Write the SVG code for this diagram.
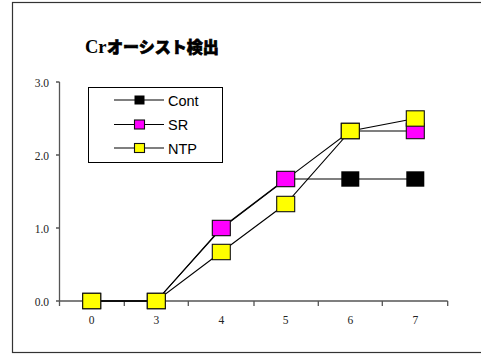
<svg xmlns="http://www.w3.org/2000/svg" width="481" height="354" viewBox="0 0 481 354">
<style>
.ax{stroke:#555;stroke-width:1.3;fill:none}
.ln{stroke:#000;stroke-width:1.1;fill:none}
.num{font-family:"Liberation Serif",serif;font-size:11.5px;fill:#222}
.leg{font-family:"Liberation Sans",Arial,sans-serif;font-size:14.5px;fill:#000}
.mk{stroke:#111;stroke-width:1.1}
.cont{fill:#000}
.sr{fill:#ff00ff}
.ntp{fill:#ffff00}
</style>
<defs>
<rect id="m" x="-9" y="-7.7" width="18" height="15.4"/>
<rect id="lm" x="-5" y="-4.5" width="10" height="9"/>
</defs>
<rect x="0" y="0" width="481" height="354" fill="#fff"/>
<rect x="12.5" y="2.5" width="480" height="350" fill="#fff" stroke="#333" stroke-width="1.2"/>
<text x="85" y="53" font-weight="bold"><tspan font-family="Liberation Serif,serif" font-size="18.5">Cr</tspan><tspan font-family="'Noto Sans CJK JP',sans-serif" font-size="16" font-weight="900" stroke="#000" stroke-width="0.7" dx="0.5">オーシスト検出</tspan></text>
<g id="axes">
<path class="ax" d="M59.5,82 V306 M56,82 H59.5 M56,155 H59.5 M56,228 H59.5 M56,301 H59.5 M59.5,301 H447.7 M124.3,301 V306 M188.3,301 V306 M254,301 V306 M318.3,301 V306 M382.3,301 V306 M447.7,301 V306"/>
<text class="num" x="49" y="86.5" text-anchor="end">3.0</text>
<text class="num" x="49" y="159.5" text-anchor="end">2.0</text>
<text class="num" x="49" y="232.5" text-anchor="end">1.0</text>
<text class="num" x="49" y="305.5" text-anchor="end">0.0</text>
<text class="num" x="91.7" y="324" text-anchor="middle">0</text>
<text class="num" x="156.3" y="324" text-anchor="middle">3</text>
<text class="num" x="221.3" y="324" text-anchor="middle">4</text>
<text class="num" x="285.7" y="324" text-anchor="middle">5</text>
<text class="num" x="350.3" y="324" text-anchor="middle">6</text>
<text class="num" x="415.3" y="324" text-anchor="middle">7</text>
</g>
<g id="connectors">
<polyline class="ln" points="91.7,301 156.3,301 221.3,228 285.7,179 350.3,179 415.3,179"/>
<polyline class="ln" points="91.7,301 156.3,301 221.3,228.6 285.7,179.6 350.3,131 415.3,131"/>
<polyline class="ln" points="91.7,301 156.3,301 221.3,252 285.7,204 350.3,131 415.3,118.5"/>
</g>
<g id="series-cont" class="cont">
<use href="#m" x="91.7" y="301"/>
<use href="#m" x="156.3" y="301"/>
<use href="#m" x="221.3" y="228"/>
<use href="#m" x="285.7" y="179"/>
<use href="#m" x="350.3" y="179"/>
<use href="#m" x="415.3" y="179"/>
</g>
<g id="series-sr" class="sr mk">
<use href="#m" x="91.7" y="301"/>
<use href="#m" x="156.3" y="301"/>
<use href="#m" x="221.3" y="228"/>
<use href="#m" x="285.7" y="179"/>
<use href="#m" x="350.3" y="131"/>
<use href="#m" x="415.3" y="131"/>
</g>
<g id="series-ntp" class="ntp mk">
<use href="#m" x="91.7" y="301"/>
<use href="#m" x="156.3" y="301"/>
<use href="#m" x="221.3" y="252"/>
<use href="#m" x="285.7" y="204"/>
<use href="#m" x="350.3" y="131"/>
<use href="#m" x="415.3" y="118.5"/>
</g>
<g id="legend">
<rect x="88.5" y="87.5" width="134" height="75" fill="#fff" stroke="#000" stroke-width="1"/>
<path class="ln" d="M114,100 H164 M114,124.5 H164 M114,148 H164"/>
<use href="#lm" x="139.5" y="100" class="cont"/>
<use href="#lm" x="139.5" y="124.5" class="sr mk"/>
<use href="#lm" x="139.5" y="148" class="ntp mk"/>
<text class="leg" x="168" y="105.5">Cont</text>
<text class="leg" x="168" y="130">SR</text>
<text class="leg" x="168" y="153.5">NTP</text>
</g>
</svg>
